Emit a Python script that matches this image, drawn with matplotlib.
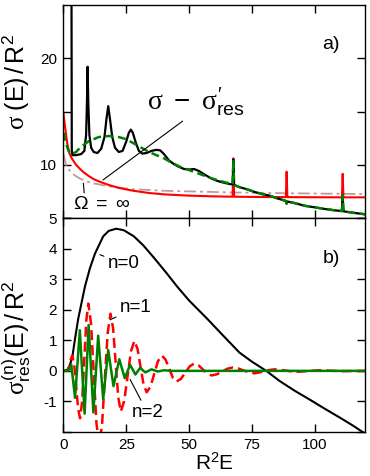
import numpy as np
import matplotlib
matplotlib.use('Agg')
import matplotlib.pyplot as plt

plt.rcParams['font.family'] = ['Liberation Sans', 'DejaVu Sans']
plt.rcParams['mathtext.fontset'] = 'custom'
plt.rcParams['mathtext.rm'] = 'Liberation Sans'
plt.rcParams['mathtext.it'] = 'Liberation Serif'
plt.rcParams['mathtext.sf'] = 'Liberation Sans'

# ---- 面板 a) 数据----
a_black_x = [3.15, 3.3, 3.6, 5, 7, 8.3, 9.0, 9.35, 9.6, 9.85, 10.3, 11.0, 12, 13.5, 15, 16.3, 17.1, 17.8,
             18.5, 19.4, 20.5, 22, 23.5, 25, 26, 26.8, 27.6, 28.6, 30, 31.3, 33, 35, 37, 38.5, 40, 42, 44,
             46, 48, 50, 52, 54, 56, 58.5, 61, 64, 66, 67.3, 67.6, 67.9, 70, 73, 76, 79, 82, 85, 88.5,
             88.8, 89.1, 92, 96, 100, 104, 108, 110.8, 111.1, 111.4, 115, 120]
a_black_y = [30, 11.3, 10.9, 10.9, 11.0, 11.3, 12.8, 16, 19.2, 16, 12.8, 11.6, 11.2, 11.1, 11.5, 12.6, 14.3, 15.5,
             14.3, 12.6, 11.6, 11.2, 11.3, 12.2, 13.0, 13.3, 13.0, 12.2, 11.3, 11.05, 11.1, 11.3, 11.4, 11.35, 11.0, 10.4, 10.05,
             9.8, 9.6, 9.55, 9.6, 9.4, 9.1, 8.75, 8.5, 8.3, 8.2, 8.15, 10.5, 8.1, 7.9, 7.7, 7.45, 7.25, 7.1, 6.85, 6.6,
             6.35, 6.55, 6.4, 6.15, 6.0, 5.85, 5.72, 5.65, 7.1, 5.63, 5.5, 5.35]

a_green_x = [0, 1, 2, 3.3, 5, 7, 10, 14, 18, 22, 25, 28, 31, 34, 37, 40, 43, 46, 50, 54, 58, 62, 66, 67.3,
             67.6, 67.9, 70, 73, 76, 79, 82, 85, 88.5, 88.8, 89.1, 92, 96, 100, 104, 108, 110.8, 111.1,
             111.4, 115, 120]
a_green_y = [13.0, 12.0, 11.3, 11.0, 11.2, 11.7, 12.2, 12.6, 12.7, 12.6, 12.4, 12.0, 11.6, 11.2, 10.9, 10.6, 10.2, 9.85,
             9.5, 9.15, 8.8, 8.5, 8.25, 8.15, 10.5, 8.1, 7.9, 7.7, 7.45, 7.25, 7.1, 6.85, 6.6, 6.35, 6.55, 6.4,
             6.15, 6.0, 5.85, 5.72, 5.65, 7.1, 5.63, 5.5, 5.35]

a_red_x = [0, 0.6, 1.5, 2.3, 3.3, 5, 6.6, 8, 10, 12, 14.5, 18, 22.5, 28, 34, 40, 50, 60, 67.3, 67.6, 67.9,
           75, 88.5, 88.8, 89.1, 100, 110.8, 111.1, 111.4, 120]
a_red_y = [14.8, 13.6, 12.0, 11.1, 10.6, 10.0, 9.6, 9.3, 8.95, 8.65, 8.4, 8.1, 7.8, 7.55, 7.35, 7.22, 7.1, 7.03, 7.0, 10.6, 7.0,
           6.98, 6.96, 9.35, 6.96, 6.95, 6.94, 9.15, 6.94, 6.94]

a_gray_x = [0, 1, 2.6, 4.5, 6.6, 9, 12, 18.5, 27.6, 41, 67.6, 90, 120]
a_gray_y = [11.0, 10.0, 9.4, 9.0, 8.7, 8.45, 8.25, 7.95, 7.7, 7.55, 7.4, 7.32, 7.25]

# ---- 面板 b) 数据 ----
b_n0_x = [0, 1.5, 2.6, 3.6, 4.6, 5.9, 7.6, 8.6, 10.5, 12.5, 15.8, 18, 21, 24, 28, 31.7, 36, 41, 45, 50,
          57, 63, 70, 75, 80.7, 86, 92, 98, 104, 110, 115, 120]
b_n0_y = [0, 0.03, 0.2, 0.5, 1.06, 1.72, 2.39, 2.78, 3.35, 3.83, 4.4, 4.58, 4.65, 4.6, 4.4, 4.11, 3.7, 3.2, 2.78, 2.3,
          1.72, 1.2, 0.6, 0.3, 0.0, -0.33, -0.65, -0.94, -1.24, -1.53, -1.78, -2.05]

b_n1_x = [0, 1.5, 2.3, 2.9, 3.5, 4.28, 5.05, 5.83, 6.6, 7.43, 8.25, 9.08, 9.9, 10.98, 12.05, 13.13, 14.2,
          15.33, 16.45, 17.58, 18.7, 19.73, 20.75, 21.78, 22.8, 24.15, 25.5, 26.85, 28.2, 29.43, 30.65, 31.88,
          33.1, 34.6, 36.1, 37.6, 39.1, 40.58, 42.05, 43.53, 45, 46.75, 48.5, 50.25, 52, 53.75, 55.5, 57.25,
          59, 61.1, 63.15, 65.2, 67.3, 69.5, 71.65, 73.8, 76, 78, 80, 82, 84, 86.3, 88.5, 90.8, 93, 102, 111, 120]
b_n1_y = [0, 0.0, 0.12, 0.38, 0.5, 0.2, -0.525, -1.25, -1.55, -1.0, 0.325, 1.65, 2.2, 1.53, -0.1, -1.73, -2.4,
          -1.775, -0.265, 1.245, 1.87, 1.4, 0.27, -0.86, -1.33, -0.99, -0.175, 0.64, 0.98, 0.73, 0.14, -0.45,
          -0.7, -0.52, -0.1, 0.32, 0.5, 0.375, 0.075, -0.225, -0.35, -0.26, -0.055, 0.15, 0.24, 0.18, 0.045, -0.09,
          -0.15, -0.11, -0.02, 0.07, 0.11, 0.08, 0.015, -0.05, -0.08, -0.05, -0.015, 0.03, 0.05, 0.035, 0.01, -0.02,
          -0.03, 0.02, -0.01, 0.0]

b_n2_x = [0, 1.5, 2.3, 3.1, 3.85, 4.6, 5.55, 6.5, 7.45, 8.4, 9.2, 10.0, 10.95, 11.9, 12.85, 13.8, 14.8, 15.8,
          16.8, 17.8, 18.85, 19.9, 21.05, 22.2, 23.3, 24.4, 25.45, 26.5, 27.55, 28.6, 29.55, 30.5, 31.55, 32.6,
          33.8, 35, 37.5, 40, 43, 120]
b_n2_y = [0, 0, 0.05, 0.2, -0.34, -0.88, 0.22, 1.33, -0.03, -1.4, 0.05, 1.5, 0.07, -1.36, -0.1, 1.15, 0.12, -0.92,
          -0.12, 0.68, 0.09, -0.5, -0.06, 0.38, 0.07, -0.24, -0.02, 0.2, 0.04, -0.12, -0.01, 0.1, 0.02, -0.05,
          0, 0.05, -0.02, 0.02, 0, 0]

a_yticks = [5, 10, 15, 20]
a_yticklabels = ['5', '10', '', '20']
b_yticks = [-2, -1, 0, 1, 2, 3, 4, 5]
b_yticklabels = ['', '-1', '0', '1', '2', '3', '4', '']
xticks = [0, 25, 50, 75, 100]


def style_axis(ax):
    ax.tick_params(direction='in', length=5.8, width=1.0, top=True, right=True,
                   labelsize=11, pad=4.5)
    for s in ax.spines.values():
        s.set_linewidth(1.0)
    ax.set_xlim(0, 120)
    ax.set_xticks(xticks)


fig = plt.figure(figsize=(3.7, 4.76), dpi=100)
ax1 = fig.add_axes([0.1716, 0.542, 0.815, 0.4475])
ax2 = fig.add_axes([0.1716, 0.0924, 0.815, 0.4496])

# 面板 a
ax1.plot(a_gray_x, a_gray_y, color='#c09a9a', lw=1.3, dashes=(6.6, 2.2, 1.6, 2.2))
ax1.plot(a_red_x, a_red_y, color='#ff0000', lw=1.5)
ax1.plot(a_black_x, a_black_y, color='black', lw=1.6)
ax1.plot(a_green_x, a_green_y, color='#008000', lw=1.8, dashes=(3.2, 1.8))
style_axis(ax1)
ax1.set_ylim(5, 25)
ax1.set_yticks(a_yticks)
ax1.set_yticklabels(a_yticklabels)
ax1.set_xticklabels([])
ax1.set_ylabel(r'$\sigma\ \mathrm{(E)\,/\,R^2}$', fontsize=18)
ax1.yaxis.set_label_coords(-0.105, 0.64)
ax1.text(106.5, 21.3, 'a)', fontsize=14, ha='center', va='center')
ax1.annotate(r'$\sigma\ -\ \sigma^{\prime}_{\mathrm{res}}$', xy=(15.7, 8.57), xytext=(33.2, 15.9),
             fontsize=20, va='center', ha='left',
             arrowprops=dict(arrowstyle='-', color='black', lw=0.8, shrinkA=0, shrinkB=0,
                             relpos=(0.45, 0.1)))
ax1.annotate(r'$\Omega\ =\ \infty$', xy=(7.9, 8.26), xytext=(3.8, 6.3),
             fontsize=14, va='center', ha='left',
             arrowprops=dict(arrowstyle='-', color='black', lw=0.8, shrinkA=0, shrinkB=0,
                             relpos=(0.2, 1.0)))

# 面板 b
ax2.plot(b_n0_x, b_n0_y, color='black', lw=1.5)
ax2.plot(b_n1_x, b_n1_y, color='#ff0000', lw=1.8, dashes=(4, 2))
ax2.plot(b_n2_x, b_n2_y, color='#008000', lw=1.8)
style_axis(ax2)
ax2.set_ylim(-2, 5)
ax2.set_yticks(b_yticks)
ax2.set_yticklabels(b_yticklabels)
ax2.set_xlabel(r'$\mathrm{R^2E}$', fontsize=15, labelpad=0)
ax2.set_ylabel(r'$\sigma^{\mathrm{(n)}}_{\mathrm{res}}\mathrm{(E)\,/\,R^2}$', fontsize=18)
ax2.yaxis.set_label_coords(-0.1, 0.44)
ax2.text(106.5, 3.66, 'b)', fontsize=14, ha='center', va='center')
ax2.annotate('n=0', xy=(14.5, 3.8), xytext=(17.7, 3.5), fontsize=13.5, va='center', ha='left',
             arrowprops=dict(arrowstyle='-', color='black', lw=0.8, shrinkA=1, shrinkB=0))
ax2.annotate('n=1', xy=(18.5, 1.67), xytext=(22.5, 2.06), fontsize=13.5, va='center', ha='left',
             arrowprops=dict(arrowstyle='-', color='black', lw=0.8, shrinkA=1, shrinkB=0))
ax2.annotate('n=2', xy=(26.5, -0.28), xytext=(27.1, -1.37), fontsize=13.5, va='center', ha='left',
             arrowprops=dict(arrowstyle='-', color='black', lw=0.8, shrinkA=1, shrinkB=0))

fig.savefig('out.png', dpi=100)
